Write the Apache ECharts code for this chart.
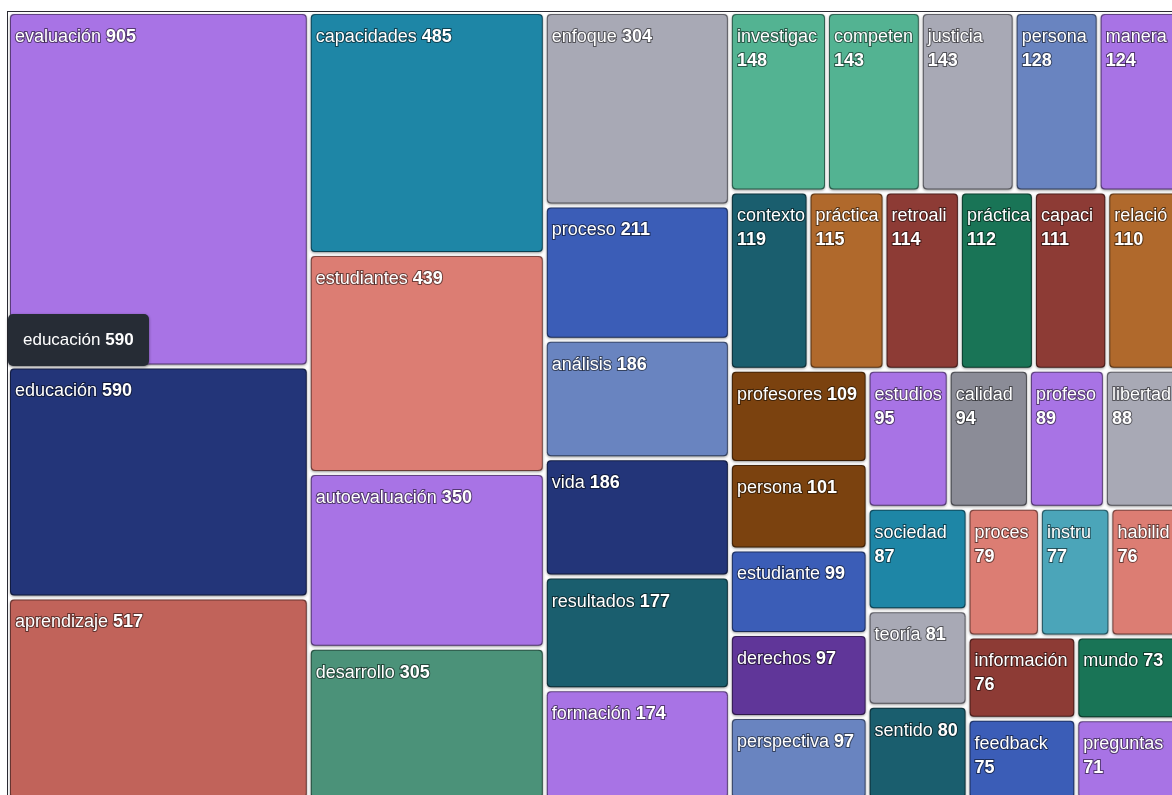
<!DOCTYPE html>
<html>
<head>
<meta charset="utf-8">
<title>treemap</title>
<script src="https://cdn.jsdelivr.net/npm/echarts@6/dist/echarts.min.js"></script>
<style>
html, body { margin: 0; padding: 0; background: #fff; overflow: hidden; }
.wrap { position: relative; width: 1172px; height: 795px; }
#treemap01 { width: 1172px; height: 795px; }
/* thin frame on the top and left of the chart */
.frame { position: absolute; left: 7px; top: 11px; right: -20px; bottom: -20px;
    border-top: 1px solid #2b2b33; border-left: 1px solid #2b2b33; pointer-events: none; }
</style>
</head>
<body>
<div class="wrap">
    <div id="treemap01"></div>
    <div class="frame"></div>
</div>
<script>
// 词频数据
var words = ['evaluación', 'educación', 'aprendizaje', 'capacidades', 'estudiantes', 'autoevaluación', 'desarrollo',
    'enfoque', 'proceso', 'análisis', 'vida', 'resultados', 'formación',
    'investigación', 'competencias', 'justicia', 'personas', 'manera',
    'contexto', 'prácticas', 'retroalimentación', 'práctica', 'capacidad', 'relación',
    'profesores', 'persona', 'estudiante', 'derechos', 'perspectiva',
    'estudios', 'calidad', 'profesorado', 'libertad',
    'sociedad', 'teoría', 'sentido',
    'procesos', 'instrumentos', 'habilidades',
    'información', 'feedback', 'mundo', 'preguntas'];
var counts = [905, 590, 517, 485, 439, 350, 305,
    304, 211, 186, 186, 177, 174,
    148, 143, 143, 128, 124,
    119, 115, 114, 112, 111, 110,
    109, 101, 99, 97, 97,
    95, 94, 89, 88,
    87, 81, 80,
    79, 77, 76,
    76, 75, 73, 71];

// 每个词的颜色
var tones = ['purple', 'navy', 'brick', 'teal', 'salmon', 'purple', 'green',
    'grey', 'blue', 'steel', 'navy', 'darkteal', 'purple',
    'mint', 'mint', 'grey', 'steel', 'purple',
    'darkteal', 'orange', 'maroon', 'forest', 'maroon', 'orange',
    'brown', 'brown', 'blue', 'violet', 'steel',
    'purple', 'slate', 'purple', 'grey',
    'teal', 'grey', 'darkteal',
    'salmon', 'aqua', 'salmon',
    'maroon', 'blue', 'forest', 'purple'];

// 分组 (数字 = 上面数组的下标), 让方块按列/行排
var groups = [0, 1, 2, 3, 4, 5, 6,
    [
        [[[[[7, 8], 9], 10], 11], 12],
        [
            [
                [13, [14, [15, [16, 17]]]],
                [[18, 19], [20, 21], [22, 23]]
            ],
            [24, 25, 26, 27, 28, [29, 30, 31, 32, [33, 34, 35, [36, 37, 38, [39, 40, 41, 42]]]]]
        ]
    ]
];

var palette = {
    purple: '#a873e5', navy: '#233579', brick: '#c1635a', teal: '#1e86a6',
    salmon: '#dc7d73', green: '#4b9279', grey: '#a8a9b5', blue: '#3b5db7',
    steel: '#6984c0', darkteal: '#1a5e6e', mint: '#53b392', orange: '#b0692c',
    maroon: '#8d3b35', forest: '#197456', brown: '#7b420f', violet: '#603699',
    slate: '#8b8c97', aqua: '#4ba5b9'
};

var FONT = '"Liberation Sans", Arial, Helvetica, sans-serif';

function darker(hex, k) {
    var n = parseInt(hex.slice(1), 16);
    var r = Math.round(((n >> 16) & 255) * (1 - k));
    var g = Math.round(((n >> 8) & 255) * (1 - k));
    var b = Math.round((n & 255) * (1 - k));
    return 'rgb(' + r + ',' + g + ',' + b + ')';
}

function buildNode(g, path) {
    if (typeof g === 'number') {
        var c = palette[tones[g]];
        return {
            name: words[g],
            value: counts[g],
            itemStyle: {
                color: c,
                borderColor: darker(c, 0.4),
                borderWidth: 1,
                borderRadius: 4,
                shadowBlur: 3,
                shadowColor: 'rgba(0,0,0,0.3)',
                shadowOffsetY: 1
            }
        };
    }
    return {
        name: 'grupo' + path,
        children: g.map(function (c, i) { return buildNode(c, path + '_' + i); })
    };
}

var treeData = groups.map(function (g, i) { return buildNode(g, '' + i); });

// 量文字宽度, 放不下就把数字换到第二行
var measure = document.createElement('canvas').getContext('2d');
function textWidth(s, weight) {
    measure.font = weight + ' 18px ' + FONT;
    return measure.measureText(s).width;
}

var myChart = echarts.init(document.getElementById('treemap01'));

function cellLabel(p) {
    var room = 9999;
    try {
        var lay = myChart.getModel().getSeriesByIndex(0).getData().getItemLayout(p.dataIndex);
        if (lay) room = lay.width - 2 - 8;
    } catch (e) {}
    var one = textWidth(p.name + ' ', 'normal') + textWidth(String(p.value), 'bold');
    return '{n|' + p.name + '}' + (one <= room ? ' ' : '\n') + '{v|' + p.value + '}';
}

var option = {
    animation: false,
    tooltip: {
        show: true,
        trigger: 'item',
        triggerOn: 'none',
        alwaysShowContent: true,
        transitionDuration: 0,
        backgroundColor: '#262c35',
        borderColor: '#262c35',
        borderWidth: 0,
        borderRadius: 5,
        padding: [13, 15],
        extraCssText: 'box-shadow: 0 1px 3px rgba(0,0,0,0.45);',
        textStyle: {
            color: '#fff',
            fontSize: 17,
            fontFamily: FONT
        },
        formatter: function (p) {
            return p.name + ' <b>' + p.value + '</b>';
        },
        position: function (pt, params, dom, rect, size) {
            return [rect.x - 2, rect.y - size.contentSize[1] - 2];
        }
    },
    series: [{
        type: 'treemap',
        left: 10,
        top: 14,
        width: 1168,
        height: 784,
        sort: false,
        squareRatio: 1.39,
        roam: false,
        nodeClick: false,
        breadcrumb: { show: false },
        itemStyle: {
            borderWidth: 0,
            gapWidth: 4,
            borderColor: '#fff'
        },
        label: {
            show: true,
            position: 'insideTopLeft',
            padding: [10, 0, 4, 4],
            color: '#fff',
            fontSize: 18,
            fontFamily: FONT,
            lineHeight: 24,
            overflow: 'truncate',
            ellipsis: '',
            textBorderColor: 'rgba(0,0,0,0.5)',
            textBorderWidth: 2,
            formatter: cellLabel,
            rich: {
                n: {
                    fontSize: 18, fontFamily: FONT, lineHeight: 24, color: '#fff',
                    textBorderColor: 'rgba(0,0,0,0.5)', textBorderWidth: 2
                },
                v: {
                    fontSize: 18, fontFamily: FONT, fontWeight: 'bold', lineHeight: 24, color: '#fff',
                    textBorderColor: 'rgba(0,0,0,0.5)', textBorderWidth: 2
                }
            }
        },
        upperLabel: { show: false },
        emphasis: { disabled: true },
        data: treeData
    }]
};

myChart.setOption(option);

// 显示 educación 的提示框
setTimeout(function () {
    myChart.dispatchAction({ type: 'showTip', seriesIndex: 0, name: 'educación' });
}, 0);
</script>
</body>
</html>
